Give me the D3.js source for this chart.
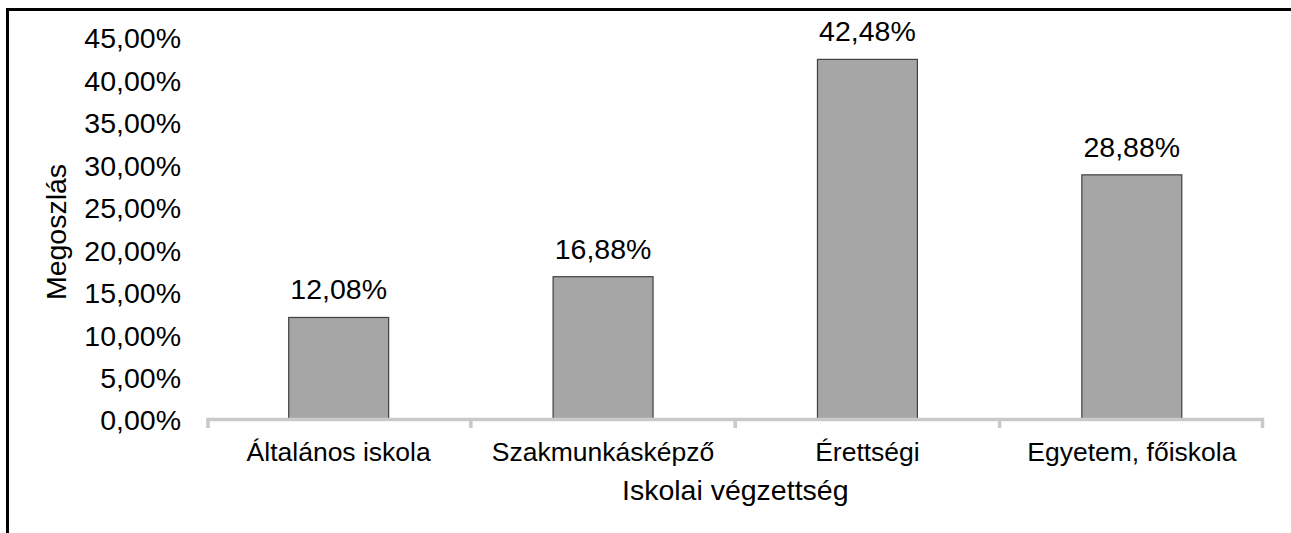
<!DOCTYPE html>
<html>
<head>
<meta charset="utf-8">
<script src="https://cdn.jsdelivr.net/npm/d3@7"></script>
<style>
  body { margin: 0; background: #fff; }
  text { font-family: "Liberation Sans", Arial, sans-serif; fill: #000; }
</style>
</head>
<body>
<svg class="chart"></svg>
<script>
var width = 1291,
    height = 533;

// data
var categories = ["Általános iskola", "Szakmunkásképző", "Érettségi", "Egyetem, főiskola"];
var shares = [0.1208, 0.1688, 0.4248, 0.2888];
var yTicks = [0, 0.05, 0.10, 0.15, 0.20, 0.25, 0.30, 0.35, 0.40, 0.45];
var xTitle = "Iskolai végzettség";
var yTitle = "Megoszlás";

var hu = d3.formatLocale({decimal: ",", thousands: " ", grouping: [3], currency: ["", " Ft"]});
var pct = hu.format(".2%");

var svg = d3.select(".chart")
            .attr("width", width)
            .attr("height", height);

// outer frame (right/bottom edges fall outside the picture)
svg.append("rect")
   .attr("x", 7.5).attr("y", 9.5)
   .attr("width", width + 20).attr("height", height + 20)
   .attr("fill", "none")
   .attr("stroke", "#000")
   .attr("stroke-width", 3);

var x = d3.scaleBand()
          .domain(categories)
          .range([206.5, 1264])
          .padding(0);

var y = d3.scaleLinear()
          .domain([0, 0.45])
          .range([420, 38]);

var barW = x.bandwidth() * 0.378;

// y axis labels
var yAxis = svg.append("g")
   .attr("transform", "translate(181,0)")
   .call(d3.axisLeft(y).tickValues(yTicks).tickFormat(pct).tickSize(0).tickPadding(0));
yAxis.select(".domain").remove();
yAxis.selectAll("text")
     .attr("font-family", "Liberation Sans, Arial, sans-serif")
     .attr("font-size", "28.5px")
     .attr("fill", "#000")
     .attr("dy", "0.35em");

// bars
svg.selectAll(".bar")
   .data(shares)
   .enter().append("rect")
   .attr("class", "bar")
   .attr("x", function(d, i){ return x(categories[i]) + x.bandwidth()/2 - barW/2; })
   .attr("y", function(d){ return y(d); })
   .attr("width", barW)
   .attr("height", function(d){ return y(0) - y(d); })
   .attr("fill", "#a6a6a6")
   .attr("stroke", "#404040")
   .attr("stroke-width", 1.2);

// value labels
svg.selectAll(".val")
   .data(shares)
   .enter().append("text")
   .attr("class", "val")
   .attr("x", function(d, i){ return x(categories[i]) + x.bandwidth()/2; })
   .attr("y", function(d){ return y(d) - 18; })
   .attr("text-anchor", "middle")
   .attr("font-size", "28.5px")
   .text(function(d){ return pct(d); });

// x axis line with boundary ticks
var axisCol = "#c9c9c9";
var xr = x.range();
svg.append("line")
   .attr("x1", xr[0]).attr("x2", xr[1])
   .attr("y1", 419.5).attr("y2", 419.5)
   .attr("stroke", axisCol).attr("stroke-width", 3.5);

var bounds = categories.map(function(c){ return x(c); }).concat([xr[1]]);
svg.selectAll(".xtick")
   .data(bounds)
   .enter().append("line")
   .attr("class", "xtick")
   .attr("x1", function(d, i){ return i === 0 ? d + 1.5 : (i === bounds.length - 1 ? d - 1.5 : d); })
   .attr("x2", function(d, i){ return i === 0 ? d + 1.5 : (i === bounds.length - 1 ? d - 1.5 : d); })
   .attr("y1", 418).attr("y2", 428)
   .attr("stroke", axisCol).attr("stroke-width", 3.5);

// category labels
svg.selectAll(".cat")
   .data(categories)
   .enter().append("text")
   .attr("class", "cat")
   .attr("x", function(d){ return x(d) + x.bandwidth()/2; })
   .attr("y", 461)
   .attr("text-anchor", "middle")
   .attr("font-size", "26.5px")
   .text(function(d){ return d; });

// axis titles
svg.append("text")
   .attr("x", (xr[0] + xr[1]) / 2)
   .attr("y", 500)
   .attr("text-anchor", "middle")
   .attr("font-size", "28.5px")
   .text(xTitle);

svg.append("text")
   .attr("transform", "translate(66,232) rotate(-90)")
   .attr("text-anchor", "middle")
   .attr("font-size", "28.5px")
   .text(yTitle);
</script>
</body>
</html>
